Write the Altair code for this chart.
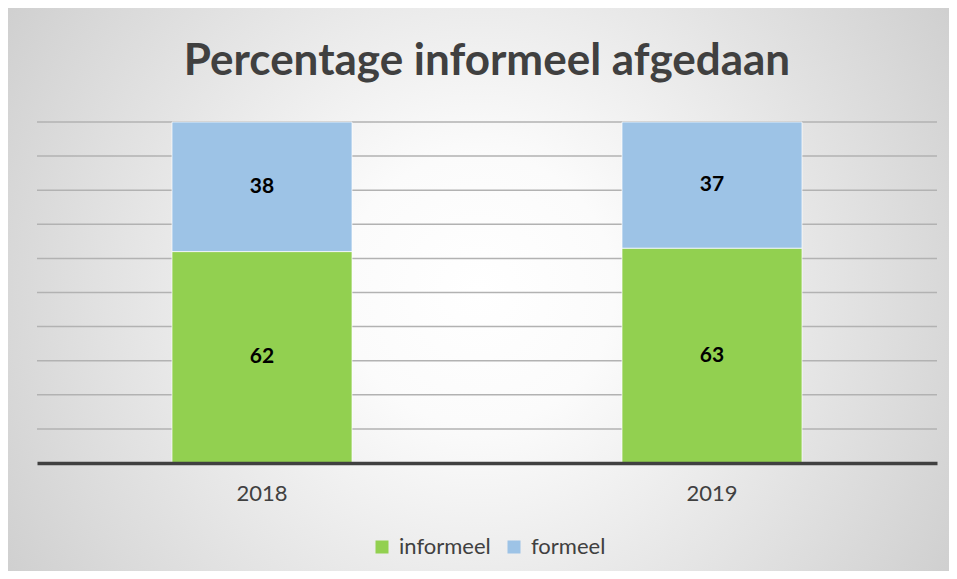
import altair as alt
import pandas as pd

title_text = ["Percentage informeel afgedaan"]
years = ["2018", "2019"]
informeel = [62, 63]
formeel = [38, 37]
series = ["informeel", "formeel"]
colors = ["#92D050", "#9DC3E6"]
grid_values = [10, 20, 30, 40, 50, 60, 70, 80, 90, 100]

rows = []
for i, y in enumerate(years):
    rows.append({"jaar": y, "soort": series[0], "waarde": informeel[i], "volg": 0})
    rows.append({"jaar": y, "soort": series[1], "waarde": formeel[i], "volg": 1})
df = pd.DataFrame(rows)
grid_df = pd.DataFrame({"g": grid_values})
bg_df = pd.DataFrame({"a": [0]})
title_df = pd.DataFrame({"t": title_text})

W, H = 900, 341
PAD = {"left": 29, "top": 114, "right": 12, "bottom": 108}

yscale = alt.Scale(domain=[0, 100], nice=False, zero=True)
xscale = alt.Scale(paddingInner=0.6, paddingOuter=0.3)

gradient = alt.RadialGradient(
    gradient="radial", x1=0.5, y1=0.5, r1=0, x2=0.5, y2=0.5, r2=0.72,
    stops=[alt.GradientStop(offset=0, color="#ffffff"),
           alt.GradientStop(offset=0.2, color="#fbfbfb"),
           alt.GradientStop(offset=1, color="#c2c2c2")],
)

background = alt.Chart(bg_df).mark_rect(fill=gradient, clip=False).encode(
    x=alt.value(-PAD["left"]), x2=alt.value(W + PAD["right"]),
    y=alt.value(-PAD["top"]), y2=alt.value(H + PAD["bottom"]),
)

title = alt.Chart(title_df).mark_text(
    font="Lato", fontSize=44, fontWeight="bold", color="#404040",
    align="center", baseline="alphabetic",
).encode(x=alt.value(W / 2), y=alt.value(-47), text="t:N")

grid = alt.Chart(grid_df).mark_rule(color="#b2b2b2", strokeWidth=1.5).encode(
    y=alt.Y("g:Q", scale=yscale, axis=None)
)

base = alt.Chart(df).transform_stack(
    stack="waarde", groupby=["jaar"], as_=["v0", "v1"],
    sort=[alt.SortField("volg", order="ascending")],
).transform_calculate(mid="(datum.v0 + datum.v1) / 2")

bars = base.mark_bar(stroke="#ffffff", strokeWidth=1, strokeOpacity=0.7).encode(
    x=alt.X("jaar:N", scale=xscale, sort=years,
            axis=alt.Axis(title=None, labelAngle=0, ticks=False, domainColor="#404040",
                          domainWidth=3.5, labelFont="Lato", labelFontSize=22,
                          labelColor="#404040", labelPadding=20, zindex=1, grid=False)),
    y=alt.Y("v0:Q", scale=yscale, axis=None),
    y2="v1:Q",
    color=alt.Color("soort:N", scale=alt.Scale(domain=series, range=colors),
                    legend=alt.Legend(title=None, orient="none", legendX=334, legendY=414,
                                      direction="horizontal", symbolType="square",
                                      symbolSize=169, symbolStrokeWidth=0, labelFont="Lato",
                                      labelFontSize=22, labelColor="#404040", labelOffset=6,
                                      columnPadding=12, padding=0, zindex=1)),
)

labels = base.mark_text(font="Lato", fontSize=21, fontWeight="bold", color="#000000").encode(
    x=alt.X("jaar:N", scale=xscale, sort=years),
    y=alt.Y("mid:Q", scale=yscale),
    text=alt.Text("waarde:Q"),
)

chart = alt.layer(background, title, grid, bars, labels).properties(
    width=W, height=H, padding=PAD, autosize=alt.AutoSizeParams(type="none"),
    background="#ffffff",
).configure_view(stroke=None)

chart.save("out.html", embed_options={"renderer": "svg", "actions": False})
